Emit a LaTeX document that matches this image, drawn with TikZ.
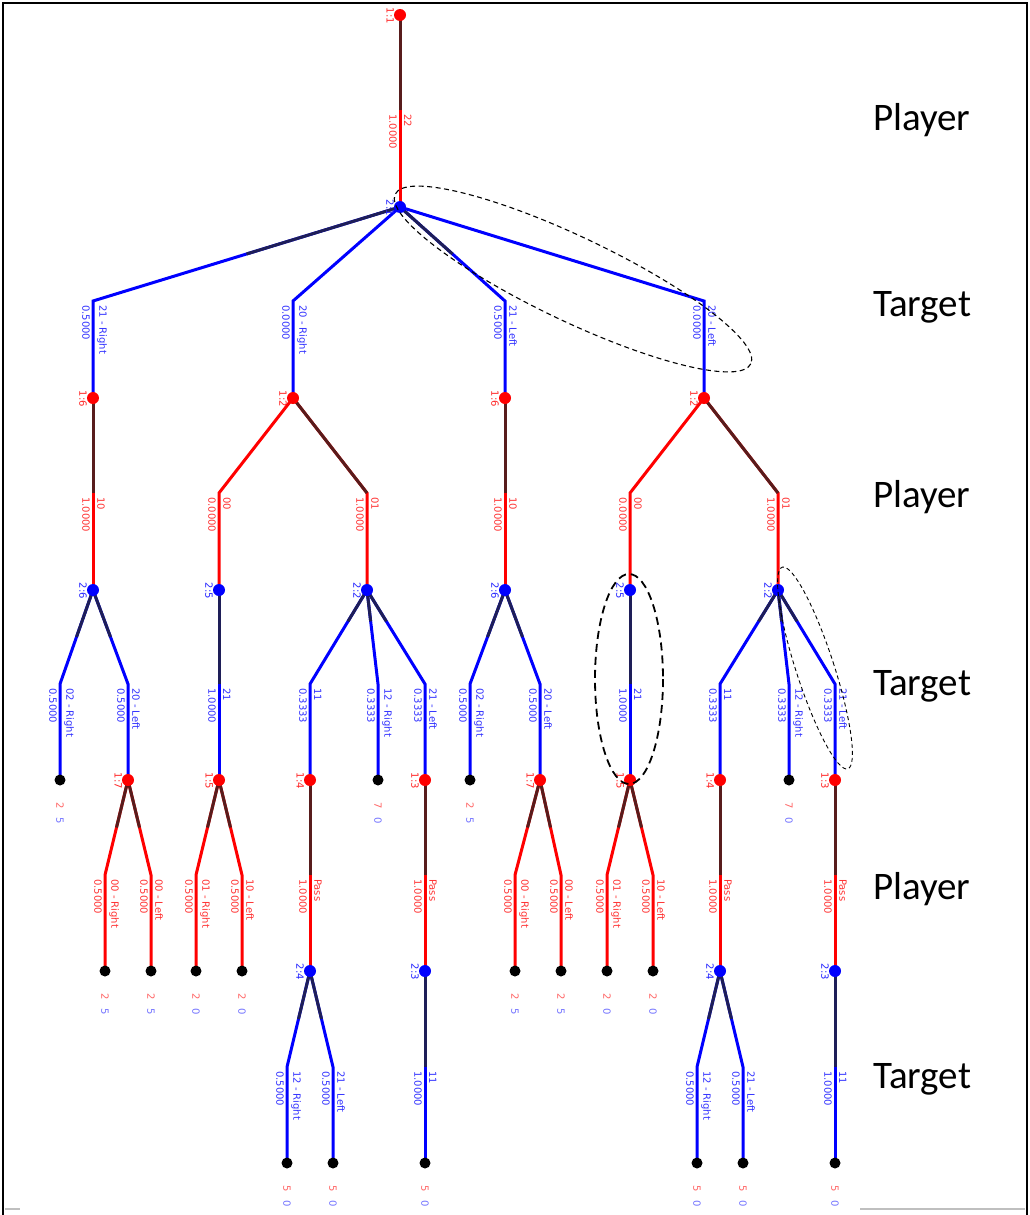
\documentclass[tikz,border=0pt]{standalone}
\usepackage{fontspec}
\setmainfont{DejaVu Sans}
\newfontfamily\lvlfont{Carlito}
\usetikzlibrary{calc}
\definecolor{reddk}{RGB}{88,28,28}
\definecolor{bluedk}{RGB}{30,30,88}
\pgfdeclarelayer{back}
\pgfdeclarelayer{bg}
\pgfsetlayers{back,bg,main}
\tikzset{
  edge/.style={line width=3pt},
  dot/.style={circle, inner sep=0pt, minimum size=12pt, draw=none},
  lab/.style={rotate=-90, inner sep=0pt, font=\fontsize{10}{10}\selectfont},
  pay/.style={rotate=-90, inner sep=0pt, font=\fontsize{10}{10}\selectfont},
  lvl/.style={font=\lvlfont\fontsize{39}{40}\selectfont, anchor=west, inner sep=0pt},
  oval/.style={dashed, draw=black}
}
% decision node: name, x, y, colour, label
\newcommand\mkdec[5]{%
  \node[dot, fill=#4] (#1) at (#2,#3) {};
  \node[lab, text=#4!85, anchor=north] (#1l) at (#2-6,#3+1) {#5};
}
% terminal node: name, x, y, payoff 1, payoff 2
\newcommand\mkterm[5]{%
  \node[dot, fill=black, minimum size=11pt] (#1) at (#2,#3) {};
  \node[pay, text=red!60] (#1a) at (#2,#3+26) {#4};
  \node[pay, text=blue!55] (#1b) at (#2,#3+41) {#5};
}
% branch: parent, tine x, tine y, child, dark fraction, colour, prob, action
\newcommand\mkbr[8]{%
  \coordinate (#4t) at (#2,#3);
  \begin{pgfonlayer}{bg}
    \draw[edge, draw=#6] (#1.center) -- (#4t) -- (#4.center);
    \draw[edge, draw=#6dk] (#1.center) -- ($(#1.center)!#5!(#4t)$);
  \end{pgfonlayer}
  \node[lab, text=#6!80, anchor=north west] at ($(#4t)+(-3,4)$) {#7};
  \node[lab, text=#6!80, anchor=south west] at ($(#4t)+(4,4)$) {#8};
}
\begin{document}
\begin{tikzpicture}[x=1pt,y=-1pt]
\useasboundingbox (0,0) rectangle (1029,1215);
\begin{pgfonlayer}{back}
\fill[white] (0,0) rectangle (1029,1215);
\end{pgfonlayer}
% frame
\draw[line width=1.5pt, black] (3,1215) -- (3,3) -- (1027,3) -- (1027,1215);
\draw[line width=2pt, black!25] (5,1209) -- (20,1209);
\draw[line width=2pt, black!25] (860,1209) -- (1025,1209);

% ---------- nodes ----------
\mkdec{n11}{400}{15}{red}{1:1}
\mkdec{n21}{400}{207}{blue}{2:1}
\mkdec{n16a}{93}{398}{red}{1:6}
\mkdec{n12a}{293}{398}{red}{1:2}
\mkdec{n16b}{505}{398}{red}{1:6}
\mkdec{n12b}{704}{398}{red}{1:2}
\mkdec{n26a}{93}{590}{blue}{2:6}
\mkdec{n25a}{219}{590}{blue}{2:5}
\mkdec{n22a}{367}{590}{blue}{2:2}
\mkdec{n26b}{505}{590}{blue}{2:6}
\mkdec{n25b}{630}{590}{blue}{2:5}
\mkdec{n22b}{778}{590}{blue}{2:2}
\mkterm{z1}{60}{780}{2}{5}
\mkdec{n17a}{128}{780}{red}{1:7}
\mkdec{n15a}{219}{780}{red}{1:5}
\mkdec{n14a}{310}{780}{red}{1:4}
\mkterm{z2}{378}{780}{7}{0}
\mkdec{n13a}{425}{780}{red}{1:3}
\mkterm{z3}{470}{780}{2}{5}
\mkdec{n17b}{540}{780}{red}{1:7}
\mkdec{n15b}{630}{780}{red}{1:5}
\mkdec{n14b}{720}{780}{red}{1:4}
\mkterm{z4}{789}{780}{7}{0}
\mkdec{n13b}{835}{780}{red}{1:3}
\mkterm{z5}{105}{971}{2}{5}
\mkterm{z6}{151}{971}{2}{5}
\mkterm{z7}{196}{971}{2}{0}
\mkterm{z8}{242}{971}{2}{0}
\mkdec{n24a}{310}{971}{blue}{2:4}
\mkdec{n23a}{425}{971}{blue}{2:3}
\mkterm{z9}{515}{971}{2}{5}
\mkterm{z10}{561}{971}{2}{5}
\mkterm{z11}{607}{971}{2}{0}
\mkterm{z12}{653}{971}{2}{0}
\mkdec{n24b}{720}{971}{blue}{2:4}
\mkdec{n23b}{835}{971}{blue}{2:3}
\mkterm{z13}{287}{1163}{5}{0}
\mkterm{z14}{333}{1163}{5}{0}
\mkterm{z15}{425}{1163}{5}{0}
\mkterm{z16}{697}{1163}{5}{0}
\mkterm{z17}{743}{1163}{5}{0}
\mkterm{z18}{835}{1163}{5}{0}

% ---------- branches ----------
\mkbr{n11}{400}{110}{n21}{1}{red}{1.0000}{22}
\mkbr{n21}{93}{301}{n16a}{0.5}{blue}{0.5000}{21 - Right}
\mkbr{n21}{293}{301}{n12a}{0}{blue}{0.0000}{20 - Right}
\mkbr{n21}{505}{301}{n16b}{0.5}{blue}{0.5000}{21 - Left}
\mkbr{n21}{704}{301}{n12b}{0}{blue}{0.0000}{20 - Left}

\mkbr{n16a}{93}{493}{n26a}{1}{red}{1.0000}{10}
\mkbr{n12a}{219}{493}{n25a}{0}{red}{0.0000}{00}
\mkbr{n12a}{367}{493}{n22a}{1}{red}{1.0000}{01}
\mkbr{n16b}{505}{493}{n26b}{1}{red}{1.0000}{10}
\mkbr{n12b}{630}{493}{n25b}{0}{red}{0.0000}{00}
\mkbr{n12b}{778}{493}{n22b}{1}{red}{1.0000}{01}

\mkbr{n26a}{60}{684}{z1}{0.5}{blue}{0.5000}{02 - Right}
\mkbr{n26a}{128}{684}{n17a}{0.5}{blue}{0.5000}{20 - Left}
\mkbr{n25a}{219}{684}{n15a}{1}{blue}{1.0000}{21}
\mkbr{n22a}{310}{684}{n14a}{0.3333}{blue}{0.3333}{11}
\mkbr{n22a}{378}{684}{z2}{0.3333}{blue}{0.3333}{12 - Right}
\mkbr{n22a}{425}{684}{n13a}{0.3333}{blue}{0.3333}{21 - Left}
\mkbr{n26b}{470}{684}{z3}{0.5}{blue}{0.5000}{02 - Right}
\mkbr{n26b}{540}{684}{n17b}{0.5}{blue}{0.5000}{20 - Left}
\mkbr{n25b}{630}{684}{n15b}{1}{blue}{1.0000}{21}
\mkbr{n22b}{720}{684}{n14b}{0.3333}{blue}{0.3333}{11}
\mkbr{n22b}{789}{684}{z4}{0.3333}{blue}{0.3333}{12 - Right}
\mkbr{n22b}{835}{684}{n13b}{0.3333}{blue}{0.3333}{21 - Left}

\mkbr{n17a}{105}{875}{z5}{0.5}{red}{0.5000}{00 - Right}
\mkbr{n17a}{151}{875}{z6}{0.5}{red}{0.5000}{00 - Left}
\mkbr{n15a}{196}{875}{z7}{0.5}{red}{0.5000}{01 - Right}
\mkbr{n15a}{242}{875}{z8}{0.5}{red}{0.5000}{10 - Left}
\mkbr{n14a}{310}{875}{n24a}{1}{red}{1.0000}{Pass}
\mkbr{n13a}{425}{875}{n23a}{1}{red}{1.0000}{Pass}
\mkbr{n17b}{515}{875}{z9}{0.5}{red}{0.5000}{00 - Right}
\mkbr{n17b}{561}{875}{z10}{0.5}{red}{0.5000}{00 - Left}
\mkbr{n15b}{607}{875}{z11}{0.5}{red}{0.5000}{01 - Right}
\mkbr{n15b}{653}{875}{z12}{0.5}{red}{0.5000}{10 - Left}
\mkbr{n14b}{720}{875}{n24b}{1}{red}{1.0000}{Pass}
\mkbr{n13b}{835}{875}{n23b}{1}{red}{1.0000}{Pass}

\mkbr{n24a}{287}{1067}{z13}{0.5}{blue}{0.5000}{12 - Right}
\mkbr{n24a}{333}{1067}{z14}{0.5}{blue}{0.5000}{21 - Left}
\mkbr{n23a}{425}{1067}{z15}{1}{blue}{1.0000}{11}
\mkbr{n24b}{697}{1067}{z16}{0.5}{blue}{0.5000}{12 - Right}
\mkbr{n24b}{743}{1067}{z17}{0.5}{blue}{0.5000}{21 - Left}
\mkbr{n23b}{835}{1067}{z18}{1}{blue}{1.0000}{11}

% ---------- dashed ovals ----------
\draw[oval, line width=1.1pt, dash pattern=on 5pt off 3.5pt, rotate around={-25.5:(573,279)}] (573,279) ellipse (197 and 42);
\draw[oval, line width=1.8pt, dash pattern=on 8pt off 5pt] (629,679) ellipse (34 and 105);
\draw[oval, line width=0.9pt, dash pattern=on 4pt off 3pt, rotate around={18:(815,668)}] (815,668) ellipse (19 and 106);

% ---------- level labels ----------
\node[lvl] (L1) at (873,120) {Player};
\node[lvl] (L2) at (873,307) {Target};
\node[lvl] (L3) at (873,497) {Player};
\node[lvl] (L4) at (873,686) {Target};
\node[lvl] (L5) at (873,889) {Player};
\node[lvl] (L6) at (873,1079) {Target};
\end{tikzpicture}
\end{document}
